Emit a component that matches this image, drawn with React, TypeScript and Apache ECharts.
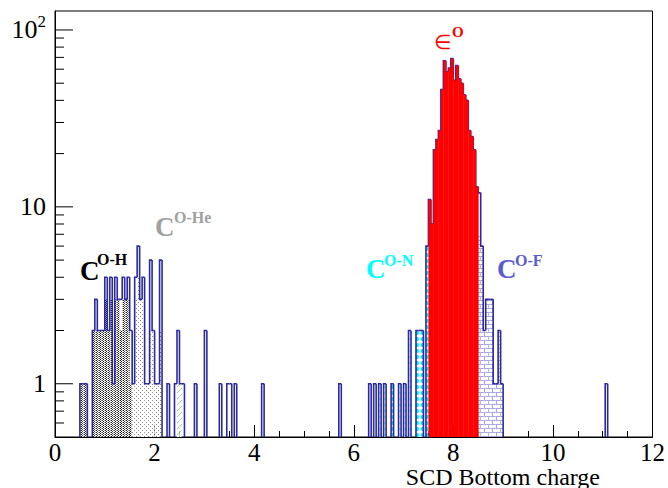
import React, { useEffect, useRef } from 'react';
import * as echarts from 'echarts';

const FONT = '"Liberation Serif", "Times New Roman", serif';
const BIN_WIDTH = 0.05;
const X_MIN = 0;
const X_MAX = 12;
const Y_MIN = 0.5;
const Y_MAX = 128;

// [bin lower edge, entries]
const totalHist: [number, number][] = [
  [0.50, 1], [0.55, 1], [0.60, 1],
  [0.75, 2], [0.80, 3], [0.85, 2], [0.90, 2], [0.95, 2],
  [1.00, 4], [1.05, 2], [1.10, 4], [1.15, 1], [1.20, 4], [1.25, 3], [1.30, 3], [1.35, 4], [1.40, 3], [1.45, 4],
  [1.50, 2], [1.55, 1], [1.60, 4], [1.65, 6], [1.70, 3], [1.75, 4], [1.80, 1], [1.85, 1], [1.90, 5], [1.95, 2],
  [2.00, 1], [2.05, 1], [2.10, 5], [2.25, 1], [2.40, 1], [2.45, 2], [2.50, 1], [2.55, 1], [2.80, 1],
  [3.00, 2], [3.30, 1], [3.45, 1], [3.50, 1], [3.60, 1], [4.15, 1], [5.70, 1],
  [6.30, 1], [6.40, 1], [6.50, 1], [6.60, 1], [6.75, 1], [6.90, 1], [7.00, 1], [7.10, 2],
  [7.25, 2], [7.30, 2], [7.35, 2], [7.45, 6],
  [7.50, 11], [7.55, 8], [7.60, 21], [7.65, 24], [7.70, 27], [7.75, 46], [7.80, 67], [7.85, 58], [7.90, 61], [7.95, 69],
  [8.00, 52], [8.05, 63], [8.10, 53], [8.15, 50], [8.20, 43], [8.25, 40], [8.30, 27], [8.35, 25], [8.40, 21], [8.45, 13],
  [8.50, 12], [8.55, 6], [8.60, 2], [8.65, 3], [8.70, 3], [8.75, 3], [8.80, 1], [8.85, 1], [8.90, 2], [8.95, 1],
  [11.05, 1],
];

const compOH: [number, number][] = [
  [0.50, 1], [0.55, 1], [0.60, 1], [0.75, 2], [0.80, 2], [0.85, 2], [0.90, 2], [0.95, 2],
  [1.00, 3], [1.05, 2], [1.10, 3], [1.15, 1], [1.20, 3], [1.25, 3], [1.30, 2], [1.35, 3], [1.40, 3], [1.45, 3], [1.50, 1],
];

const compOHe: [number, number][] = [
  [1.55, 1], [1.60, 3], [1.65, 4], [1.70, 3], [1.75, 3], [1.80, 1], [1.85, 1], [1.90, 2], [1.95, 2],
  [2.00, 1], [2.05, 1], [2.10, 2],
];

const compOther: [number, number][] = [[2.45, 1], [2.50, 1]];

const compON: [number, number][] = [
  [6.50, 1], [6.60, 1], [6.75, 1], [6.90, 1], [7.00, 1], [7.10, 2], [7.25, 2], [7.30, 2], [7.35, 2], [7.45, 6],
];

const compEO: [number, number][] = [
  [7.50, 11], [7.55, 8], [7.60, 21], [7.65, 24], [7.70, 27], [7.75, 46], [7.80, 67], [7.85, 58], [7.90, 61], [7.95, 69],
  [8.00, 52], [8.05, 63], [8.10, 53], [8.15, 50], [8.20, 43], [8.25, 40], [8.30, 27], [8.35, 25], [8.40, 21], [8.45, 13],
];

const compOF: [number, number][] = [
  [8.50, 7], [8.55, 6], [8.60, 2], [8.65, 3], [8.70, 3], [8.75, 3], [8.80, 1], [8.85, 1], [8.90, 2], [8.95, 1],
];

const yMajorTicks = [1, 10, 100];
const yMinorTicks = [0.6, 0.7, 0.8, 0.9, 2, 3, 4, 5, 6, 7, 8, 9, 20, 30, 40, 50, 60, 70, 80, 90];

const OUTLINE = '#2a2aa0';

function makePattern(w: number, h: number, draw: (ctx: CanvasRenderingContext2D) => void): any {
  const c = document.createElement('canvas');
  c.width = w;
  c.height = h;
  const ctx = c.getContext('2d') as CanvasRenderingContext2D;
  draw(ctx);
  return { image: c.toDataURL(), imageWidth: w, imageHeight: h, repeat: 'repeat' };
}

function buildOutline(hist: [number, number][]) {
  const key = (x: number) => Math.round(x / BIN_WIDTH);
  const m = new Map<number, number>();
  hist.forEach(([x, c]) => m.set(key(x), c));
  const n = Math.round((X_MAX - X_MIN) / BIN_WIDTH);
  const out: number[][] = [];
  for (let i = 0; i <= n; i++) {
    const v = m.get(i) ?? 0;
    const pv = m.get(i - 1) ?? 0;
    if (v > 0 || pv > 0) out.push([X_MIN + i * BIN_WIDTH, v, pv]);
  }
  return out;
}

function rectSeries(name: string, hist: [number, number][], fill: any, z: number, extra = 0) {
  return {
    name,
    type: 'custom',
    z,
    coordinateSystem: 'cartesian2d',
    encode: { x: 0, y: 1 },
    data: hist.map(([x, c]) => [x, c]),
    renderItem: (_p: any, api: any) => {
      const x0 = api.value(0) as number;
      const v = api.value(1) as number;
      const a = api.coord([x0, v]);
      const b = api.coord([x0 + BIN_WIDTH, Y_MIN]);
      return {
        type: 'rect',
        shape: { x: a[0], y: a[1], width: b[0] - a[0] + extra, height: b[1] - a[1] },
        style: { fill },
      };
    },
  };
}

function superText(base: string, sup: string, x: number, y: number, supX: number, supY: number, color: string, baseFont: string, supFont: string) {
  return [
    { type: 'text', z: 20, x, y, style: { text: base, fill: color, font: baseFont, align: 'left', verticalAlign: 'middle' } },
    { type: 'text', z: 20, x: supX, y: supY, style: { text: sup, fill: color, font: supFont, align: 'left', verticalAlign: 'middle' } },
  ];
}

export default function App() {
  const ref = useRef<HTMLDivElement>(null);
  useEffect(() => {
    document.body.style.margin = '0';
    const st = document.createElement('style');
    st.textContent = 'svg text, svg tspan { font-family: "Liberation Serif", "Times New Roman", serif !important; }';
    document.head.appendChild(st);
    if (!ref.current) return;
    const chart = echarts.init(ref.current, undefined, { renderer: 'svg' });

    const patOH = makePattern(3, 2, (ctx) => {
      ctx.fillStyle = '#ffffff'; ctx.fillRect(0, 0, 3, 2);
      ctx.fillStyle = '#1a1a1a'; ctx.fillRect(0, 0, 1, 1); ctx.fillRect(1, 1, 1, 1);
      ctx.fillStyle = '#9a9a9a'; ctx.fillRect(2, 0, 1, 1);
    });
    const patOHe = makePattern(4, 4, (ctx) => {
      ctx.fillStyle = '#ffffff'; ctx.fillRect(0, 0, 4, 4);
      ctx.fillStyle = '#808080'; ctx.fillRect(0, 0, 1, 1); ctx.fillRect(2, 2, 1, 1);
    });
    const patOther = makePattern(6, 6, (ctx) => {
      ctx.fillStyle = '#ffffff'; ctx.fillRect(0, 0, 6, 6);
      ctx.strokeStyle = '#9ad49a'; ctx.lineWidth = 1;
      ctx.beginPath(); ctx.moveTo(0, 6); ctx.lineTo(6, 0); ctx.stroke();
    });
    const patON = makePattern(5, 6, (ctx) => {
      ctx.fillStyle = '#ffffff'; ctx.fillRect(0, 0, 5, 6);
      ctx.fillStyle = '#00e5ff';
      ctx.beginPath(); ctx.arc(2.5, 3, 2, 0, Math.PI * 2); ctx.fill();
    });
    const patOF = makePattern(8, 8, (ctx) => {
      ctx.fillStyle = '#ffffff'; ctx.fillRect(0, 0, 8, 8);
      ctx.strokeStyle = '#a4a4e0'; ctx.lineWidth = 1;
      ctx.beginPath();
      ctx.moveTo(0, 0.5); ctx.lineTo(8, 0.5);
      ctx.moveTo(0, 4.5); ctx.lineTo(8, 4.5);
      ctx.moveTo(0.5, 0); ctx.lineTo(0.5, 4.5);
      ctx.moveTo(4.5, 4.5); ctx.lineTo(4.5, 8);
      ctx.stroke();
    });

    const outlineData = buildOutline(totalHist);
    const yTickData = [
      ...yMajorTicks.map((v) => [X_MIN, v, 1]),
      ...yMinorTicks.map((v) => [X_MIN, v, 0]),
    ];

    const option: any = {
      animation: false,
      backgroundColor: '#ffffff',
      textStyle: { fontFamily: FONT },
      grid: { left: 55, right: 11, top: 11, bottom: 51, show: true, borderColor: '#000', borderWidth: 1, backgroundColor: 'transparent' },
      xAxis: {
        type: 'value',
        min: X_MIN,
        max: X_MAX,
        interval: 2,
        axisLine: { show: true, lineStyle: { color: '#000', width: 1 } },
        axisTick: { show: true, inside: true, length: 12, lineStyle: { color: '#000' } },
        minorTick: { show: true, splitNumber: 4, length: 6, lineStyle: { color: '#000' } },
        splitLine: { show: false },
        axisLabel: { fontFamily: FONT, fontSize: 25, lineHeight: 20, color: '#000', margin: 5 },
      },
      yAxis: {
        type: 'log',
        logBase: 10,
        min: Y_MIN,
        max: Y_MAX,
        axisLine: { show: true, lineStyle: { color: '#000', width: 1 } },
        axisTick: { show: false },
        splitLine: { show: false },
        minorTick: { show: false },
        axisLabel: {
          margin: 9,
          fontFamily: FONT,
          formatter: (v: number) => {
            const e = Math.log10(v);
            if (Math.abs(e - Math.round(e)) > 1e-6) return '';
            const n = Math.round(e);
            if (n === 0) return '{m|1}';
            if (n === 1) return '{m|10}';
            return '{m|10}{s|' + n + '}';
          },
          rich: {
            m: { fontFamily: FONT, fontSize: 26, color: '#000', lineHeight: 34 },
            s: { fontFamily: FONT, fontSize: 17, color: '#000', lineHeight: 14, verticalAlign: 'top' },
          },
        },
      },
      series: [
        rectSeries('C O-H', compOH, patOH, 2),
        rectSeries('C O-He', compOHe, patOHe, 2),
        rectSeries('other', compOther, patOther, 2),
        rectSeries('C O-N', compON, patON, 2),
        rectSeries('C O-F', compOF, patOF, 2),
        {
          name: 'total',
          type: 'custom',
          z: 3,
          coordinateSystem: 'cartesian2d',
          encode: { x: 0, y: 1 },
          data: outlineData,
          renderItem: (_p: any, api: any) => {
            const x0 = api.value(0) as number;
            const v = api.value(1) as number;
            const pv = api.value(2) as number;
            const yv = v > 0 ? v : Y_MIN;
            const ypv = pv > 0 ? pv : Y_MIN;
            const pts = [api.coord([x0, ypv]), api.coord([x0, yv])];
            if (v > 0) pts.push(api.coord([x0 + BIN_WIDTH, yv]));
            return { type: 'polyline', shape: { points: pts }, style: { stroke: OUTLINE, lineWidth: 1.6, fill: null } };
          },
        },
        rectSeries('eO', compEO, '#ff0000', 4, 0.4),
        {
          name: 'yticks',
          type: 'custom',
          z: 5,
          coordinateSystem: 'cartesian2d',
          encode: { x: 0, y: 1 },
          data: yTickData,
          renderItem: (_p: any, api: any) => {
            const p = api.coord([api.value(0), api.value(1)]);
            const len = api.value(2) === 1 ? 18 : 9;
            return { type: 'line', shape: { x1: p[0], y1: p[1], x2: p[0] + len, y2: p[1] }, style: { stroke: '#000', lineWidth: 1 } };
          },
        },
      ],
      graphic: [
        ...superText('C', 'O-H', 80, 271, 97, 259, '#000000', `bold 27px ${FONT}`, `bold 16px ${FONT}`),
        ...superText('C', 'O-He', 155, 227, 174, 217, '#a0a0a0', `bold 27px ${FONT}`, `bold 16px ${FONT}`),
        ...superText('C', 'O-N', 366, 269, 384, 260, '#00ffff', `bold 27px ${FONT}`, `bold 16px ${FONT}`),
        ...superText('C', 'O-F', 497, 269, 515, 260, '#5b5bd2', `bold 27px ${FONT}`, `bold 16px ${FONT}`),
        ...superText('\u2208', 'O', 434, 42, 452, 32, '#ff0000', `20px ${FONT}`, `bold 15px ${FONT}`),
        { type: 'text', z: 20, x: 600, y: 476.5, style: { text: 'SCD Bottom charge', fill: '#000', font: `24px ${FONT}`, lineHeight: 22, align: 'right', verticalAlign: 'middle' } },
      ],
    };
    chart.setOption(option);
    return () => {
      chart.dispose();
      st.remove();
    };
  }, []);
  return <div ref={ref} style={{ width: 668, height: 488 }} />;
}
